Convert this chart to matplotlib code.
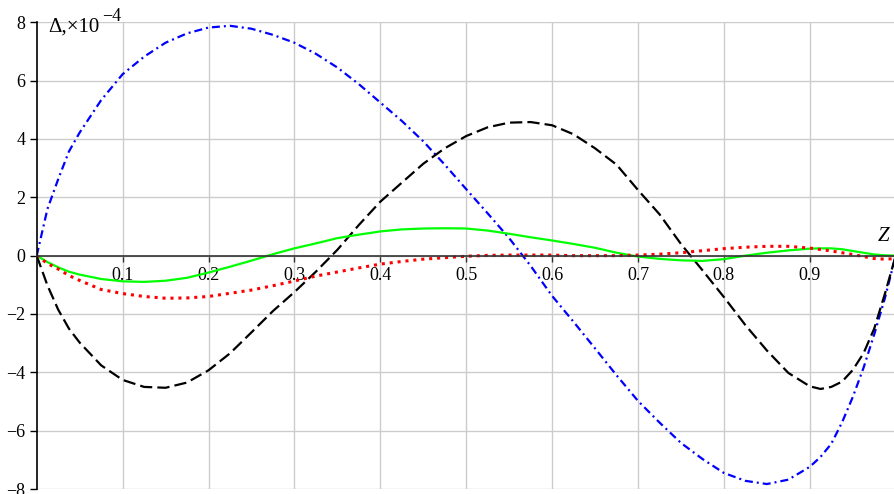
import numpy as np
import matplotlib
matplotlib.use("Agg")
import matplotlib.pyplot as plt

plt.rcParams['font.family'] = ['Liberation Serif', 'DejaVu Serif']
plt.rcParams['mathtext.fontset'] = 'stix'

# Z positions (denser near the ends)
z = [0.0000, 0.0125, 0.0250, 0.0375, 0.050, 0.075, 0.100, 0.125, 0.150, 0.175,
     0.200, 0.225, 0.250, 0.275, 0.300, 0.325, 0.350, 0.375, 0.400, 0.425,
     0.450, 0.475, 0.500, 0.525, 0.550, 0.575, 0.600, 0.625, 0.650, 0.675,
     0.700, 0.725, 0.750, 0.775, 0.800, 0.825, 0.850, 0.875, 0.900, 0.9125,
     0.925, 0.9375, 0.950, 0.9625, 0.975, 0.9875, 1.000]

# blue dash-dot
delta_blue = [0.00, 1.60, 2.62, 3.57, 4.22, 5.33, 6.22, 6.82, 7.30, 7.62,
              7.82, 7.88, 7.78, 7.57, 7.30, 6.92, 6.45, 5.88, 5.25, 4.62,
              3.92, 3.12, 2.28, 1.45, 0.60, -0.35, -1.38, -2.27, -3.18, -4.10,
              -4.98, -5.72, -6.42, -6.97, -7.45, -7.72, -7.83, -7.68, -7.24, -6.90,
              -6.45, -5.72, -4.85, -3.85, -2.70, -1.45, 0.00]

# black dashed
delta_black = [0.00, -1.02, -1.85, -2.50, -2.98, -3.76, -4.26, -4.50, -4.53, -4.35,
               -3.93, -3.35, -2.63, -1.90, -1.25, -0.55, 0.20, 1.05, 1.85, 2.50,
               3.15, 3.68, 4.10, 4.40, 4.56, 4.58, 4.47, 4.16, 3.68, 3.12,
               2.25, 1.42, 0.40, -0.50, -1.42, -2.38, -3.25, -4.02, -4.48, -4.57,
               -4.50, -4.32, -3.92, -3.35, -2.50, -1.30, 0.00]

# green solid
delta_green = [0.00, -0.22, -0.40, -0.55, -0.65, -0.80, -0.88, -0.90, -0.86, -0.76,
               -0.58, -0.38, -0.17, 0.05, 0.25, 0.42, 0.60, 0.72, 0.83, 0.90,
               0.93, 0.94, 0.93, 0.86, 0.75, 0.63, 0.52, 0.40, 0.27, 0.10,
               -0.03, -0.11, -0.16, -0.18, -0.12, 0.00, 0.10, 0.18, 0.24, 0.25,
               0.25, 0.22, 0.16, 0.10, 0.04, 0.01, 0.00]

# red dotted
delta_red = [0.00, -0.27, -0.46, -0.68, -0.85, -1.16, -1.30, -1.40, -1.46, -1.45,
             -1.40, -1.29, -1.18, -1.03, -0.87, -0.70, -0.56, -0.42, -0.29, -0.20,
             -0.12, -0.07, -0.02, 0.01, 0.02, 0.02, 0.02, 0.00, 0.00, 0.00,
             0.02, 0.05, 0.10, 0.17, 0.24, 0.29, 0.32, 0.32, 0.26, 0.21,
             0.16, 0.10, 0.04, -0.03, -0.10, -0.12, -0.10]

x_ticks = [0.1, 0.2, 0.3, 0.4, 0.5, 0.6, 0.7, 0.8, 0.9]
y_ticks = [-8, -6, -4, -2, 0, 2, 4, 6, 8]

W, H = 894, 494
fig = plt.figure(figsize=(W / 100, H / 100), dpi=100)
ax = fig.add_axes([36.7 / W, 5 / H, (W - 36.7) / W, 466.7 / H])

ax.plot(z, delta_blue, color='#0000ff', lw=1.6, dashes=(3.6, 1.8, 0.9, 1.8))
ax.plot(z, delta_black, color='black', lw=1.6, dashes=(5.5, 2.3))
ax.plot(z, delta_green, color='#00ff00', lw=1.6)
ax.plot(z, delta_red, color='#ff0000', lw=2.2, dashes=(1, 1.6),
        dash_capstyle='butt')

ax.set_xlim(0, (W - 36.7) / 859)
ax.set_ylim(-8, 8)

ax.set_xticks(x_ticks)
ax.set_xticklabels([str(t) for t in x_ticks])
ax.set_yticks(y_ticks)
ax.set_yticklabels([str(t) if t >= 0 else '\u2212' + str(-t) for t in y_ticks])

ax.grid(True, color='#cccccc', lw=1.0)
ax.set_axisbelow(True)

ax.spines['top'].set_visible(False)
ax.spines['right'].set_visible(False)
ax.spines['bottom'].set_position(('data', 0))
ax.spines['bottom'].set_color('#333333')
ax.spines['bottom'].set_linewidth(1.2)
ax.spines['left'].set_linewidth(1.2)

ax.tick_params(axis='x', direction='out', length=4, width=1, pad=4,
               labelsize=13, color='#333333')
ax.tick_params(axis='y', direction='out', length=5, width=1, pad=3,
               labelsize=13)

# axis captions, placed in pixels from the top-left corner
fig.text(48 / W, 1 - 32 / H, '\u0394,\u00d710', fontsize=15,
         ha='left', va='baseline')
fig.text(102 / W, 1 - 21 / H, '\u22124', fontsize=13,
         ha='left', va='baseline')
fig.text(884 / W, 1 - 236 / H, 'Z', fontsize=15, style='italic',
         ha='center', va='center')

fig.savefig('out.png', dpi=100)
